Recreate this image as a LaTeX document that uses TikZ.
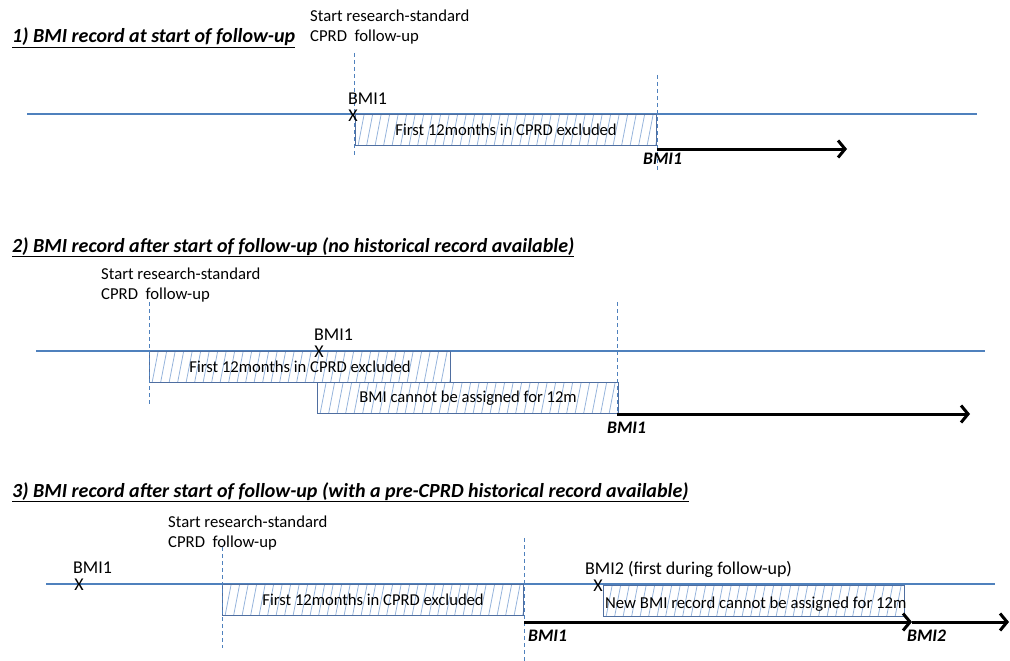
\documentclass[tikz,border=0pt]{standalone}
\usepackage{fontspec}
\setmainfont{Carlito}
\usetikzlibrary{arrows.meta}
\definecolor{axisblue}{RGB}{79,129,189}
\definecolor{boxline}{RGB}{79,110,160}
\definecolor{hatchblue}{RGB}{150,180,220}
\tikzset{
  timeline/.style={draw=axisblue, line width=1.2pt},
  guide/.style={draw=axisblue, line width=0.9pt, dash pattern=on 4pt off 3pt},
  fuarrow/.style={draw=black, line width=3pt, -{Straight Barb[length=7pt,width=17pt]}},
  txt/.style={font=\fontsize{16.7}{19}\selectfont, inner sep=0pt, anchor=base west},
  mlbl/.style={font=\fontsize{18}{21}\selectfont, inner sep=0pt, anchor=base west, text depth=0pt},
  ttl/.style={font=\fontsize{20}{23}\selectfont\bfseries\itshape, inner sep=0pt, anchor=base west},
  fulbl/.style={font=\fontsize{17.6}{20}\selectfont\bfseries\itshape, inner sep=0pt, anchor=base west},
  xmark/.style={font=\fontsize{18}{20}\selectfont, inner sep=0pt, anchor=center},
  hatchbox/.style={draw=boxline, line width=1.2pt, anchor=north west, inner sep=0pt,
     minimum width=#1, minimum height=31pt, font=\fontsize{16.6}{19}\selectfont,
     path picture={\foreach \k in {0,...,40}{\draw[hatchblue, line width=0.8pt]
       ([xshift=\k*8.5pt-6pt]path picture bounding box.south west) -- ++(6pt,31pt);}}},
}
\begin{document}
\begin{tikzpicture}[x=1pt,y=-1pt]
\useasboundingbox (0,0) rectangle (1010,661);
% ---------- Panel 1
\node[ttl] (t1) at (12,43) {\underline{1) BMI record at start of follow-up}};
\node[txt] (s1a) at (310,22) {Start research-standard};
\node[txt] (s1b) at (310,42) {CPRD\ \ follow-up};
\coordinate (L1a) at (27,114); \coordinate (L1b) at (977,114);
\draw[timeline] (L1a) -- (L1b);
\node[hatchbox=301pt] (B1) at (355,114) {First 12months in CPRD excluded};
\coordinate (G1a) at (354,53); \coordinate (G1b) at (354,157);
\coordinate (G2a) at (657,75); \coordinate (G2b) at (657,170);
\draw[guide] (G1a) -- (G1b);
\draw[guide] (G2a) -- (G2b);
\node[mlbl] (m1) at (348,104) {BMI1};
\node[xmark] (x1) at (353,116) {X};
\coordinate (A1a) at (657,149); \coordinate (A1b) at (847,149);
\draw[fuarrow] (A1a) -- (A1b);
\node[fulbl] (f1) at (643,164) {BMI1};
% ---------- Panel 2
\node[ttl] (t2) at (12,252) {\underline{2) BMI record after start of follow-up (no historical record available)}};
\node[txt] (s2a) at (101,279) {Start research-standard};
\node[txt] (s2b) at (101,299) {CPRD\ \ follow-up};
\coordinate (L2a) at (36,351); \coordinate (L2b) at (985,351);
\draw[timeline] (L2a) -- (L2b);
\node[hatchbox=301pt] (B2a) at (149,351) {First 12months in CPRD excluded};
\node[hatchbox=301pt] (B2b) at (317,382) {BMI cannot be assigned for 12m};
\coordinate (G3a) at (149,302); \coordinate (G3b) at (149,405);
\coordinate (G4a) at (617,302); \coordinate (G4b) at (617,412);
\draw[guide] (G3a) -- (G3b);
\draw[guide] (G4a) -- (G4b);
\node[mlbl] (m2) at (314,340) {BMI1};
\node[xmark] (x2) at (319,352) {X};
\coordinate (A2a) at (617,414); \coordinate (A2b) at (970,414);
\draw[fuarrow] (A2a) -- (A2b);
\node[fulbl] (f2) at (607,433) {BMI1};
% ---------- Panel 3
\node[ttl] (t3) at (12,497) {\underline{3) BMI record after start of follow-up (with a pre-CPRD historical record available)}};
\node[txt] (s3a) at (168,527) {Start research-standard};
\node[txt] (s3b) at (168,547) {CPRD\ \ follow-up};
\coordinate (L3a) at (46,584); \coordinate (L3b) at (995,584);
\draw[timeline] (L3a) -- (L3b);
\node[hatchbox=301pt] (B3a) at (222,584) {First 12months in CPRD excluded};
\node[hatchbox=301pt] (B3b) at (603,585) {};
\begin{scope}
  \clip (B3b.south west) rectangle (B3b.north east);
  \node[txt] (n3) at (605,608) {New BMI record cannot be assigned for 12m};
\end{scope}
\coordinate (G5a) at (222,547); \coordinate (G5b) at (222,648);
\coordinate (G6a) at (524,538); \coordinate (G6b) at (524,661);
\draw[guide] (G5a) -- (G5b);
\draw[guide] (G6a) -- (G6b);
\node[mlbl] (m3) at (73,573) {BMI1};
\node[xmark] (x3) at (79,585) {X};
\node[mlbl] (m4) at (585,574) {BMI2 (first during follow-up)};
\node[xmark] (x4) at (598,586) {X};
\coordinate (A3a) at (524,622); \coordinate (A3b) at (912,622);
\coordinate (A4b) at (1009,622);
\draw[fuarrow] (A3a) -- (A3b);
\draw[fuarrow] (A3b) -- (A4b);
\node[fulbl] (f3) at (528,641) {BMI1};
\node[fulbl] (f4) at (907,641) {BMI2};
\end{tikzpicture}
\end{document}
